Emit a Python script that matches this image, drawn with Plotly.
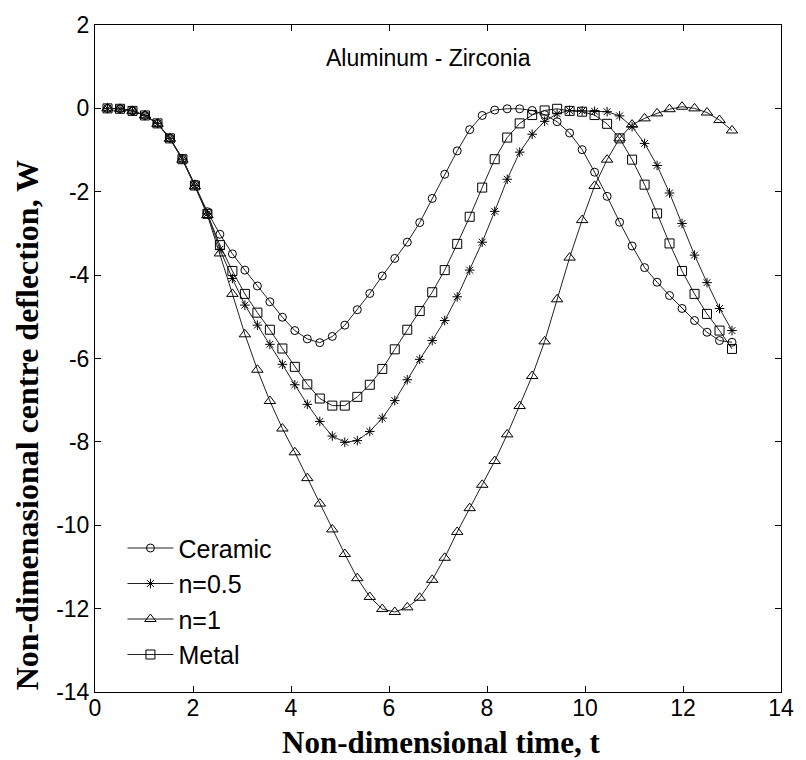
import plotly.graph_objects as go

t = [0.255, 0.510, 0.765, 1.020, 1.275, 1.529, 1.784, 2.039, 2.294, 2.549,
     2.804, 3.059, 3.314, 3.569, 3.824, 4.078, 4.333, 4.588, 4.843, 5.098,
     5.353, 5.608, 5.863, 6.118, 6.373, 6.627, 6.882, 7.137, 7.392, 7.647,
     7.902, 8.157, 8.412, 8.667, 8.922, 9.176, 9.431, 9.686, 9.941, 10.196,
     10.451, 10.706, 10.961, 11.216, 11.471, 11.725, 11.980, 12.235, 12.490, 12.745,
     13.000]

ceramic = [0.00, -0.01, -0.06, -0.17, -0.36, -0.71, -1.20, -1.82, -2.48, -3.02,
           -3.49, -3.88, -4.26, -4.64, -5.01, -5.33, -5.53, -5.62, -5.47, -5.20,
           -4.83, -4.44, -4.02, -3.60, -3.21, -2.74, -2.16, -1.58, -1.02, -0.51,
           -0.17, -0.04, -0.01, -0.01, -0.05, -0.15, -0.32, -0.59, -0.99, -1.53,
           -2.11, -2.73, -3.30, -3.82, -4.17, -4.49, -4.80, -5.09, -5.37, -5.57,
           -5.61]

n05 = [0.00, -0.01, -0.06, -0.17, -0.36, -0.72, -1.22, -1.85, -2.53, -3.38,
       -4.08, -4.72, -5.20, -5.66, -6.14, -6.63, -7.10, -7.51, -7.86, -8.01,
       -7.97, -7.75, -7.43, -7.01, -6.51, -6.02, -5.57, -5.09, -4.52, -3.88,
       -3.21, -2.47, -1.70, -1.05, -0.62, -0.31, -0.13, -0.05, -0.06, -0.07,
       -0.08, -0.18, -0.44, -0.84, -1.37, -2.03, -2.76, -3.52, -4.18, -4.80,
       -5.33]

n1 = [0.00, -0.01, -0.06, -0.17, -0.37, -0.73, -1.23, -1.87, -2.56, -3.48,
      -4.45, -5.42, -6.27, -7.02, -7.68, -8.25, -8.87, -9.48, -10.10, -10.69,
      -11.27, -11.72, -12.01, -12.08, -11.97, -11.74, -11.31, -10.78, -10.16, -9.59,
      -9.03, -8.46, -7.82, -7.14, -6.42, -5.59, -4.58, -3.58, -2.68, -1.86,
      -1.23, -0.72, -0.39, -0.24, -0.12, -0.02, 0.04, 0.00, -0.10, -0.28,
      -0.53]

metal = [0.00, -0.01, -0.06, -0.17, -0.36, -0.72, -1.22, -1.85, -2.53, -3.28,
         -3.90, -4.45, -4.90, -5.31, -5.76, -6.20, -6.62, -6.96, -7.13, -7.13,
         -6.92, -6.63, -6.25, -5.78, -5.31, -4.86, -4.41, -3.88, -3.25, -2.60,
         -1.90, -1.22, -0.70, -0.36, -0.16, -0.05, -0.01, -0.06, -0.08, -0.16,
         -0.37, -0.72, -1.23, -1.83, -2.52, -3.24, -3.90, -4.45, -4.93, -5.33,
         -5.77]

series_names = ["Ceramic", "n=0.5", "n=1", "Metal"]
series_vals = [ceramic, n05, n1, metal]
symbols = ["circle-open", "asterisk-open", "triangle-up-open", "square-open"]
sizes = [8, 8, 10, 9]

x_ticks = [0, 2, 4, 6, 8, 10, 12, 14]
x_labels = ["0", "2", "4", "6", "8", "10", "12", "14"]
y_ticks = [2, 0, -2, -4, -6, -8, -10, -12, -14]
y_labels = ["2", "0", "-2", "-4", "-6", "-8", "-10", "-12", "-14"]

fig = go.Figure()
for name, vals, sym, sz in zip(series_names, series_vals, symbols, sizes):
    fig.add_trace(go.Scatter(
        x=t, y=vals, name=name, mode="lines+markers",
        line=dict(color="#222222", width=1),
        marker=dict(symbol=sym, size=sz, color="black", line=dict(color="black", width=1)),
    ))

tick_font = dict(family="Liberation Sans, Arial, sans-serif", size=23, color="black")
axis_common = dict(
    showline=True, linecolor="black", linewidth=1, mirror="ticks",
    ticks="inside", ticklen=6, tickwidth=1, tickcolor="black",
    showgrid=False, zeroline=False, tickfont=tick_font,
)

fig.update_layout(
    width=806, height=760,
    margin=dict(l=95, r=17, t=22, b=68),
    paper_bgcolor="white", plot_bgcolor="white",
    xaxis=dict(range=[0, 14], tickvals=x_ticks, ticktext=x_labels,
               ticklabelstandoff=-5, **axis_common),
    yaxis=dict(range=[-14, 2], tickvals=y_ticks, ticktext=y_labels, **axis_common),
    showlegend=True,
    legend=dict(
        x=0.04, y=0.25, xanchor="left", yanchor="top",
        bgcolor="rgba(0,0,0,0)", borderwidth=0,
        font=dict(family="Liberation Sans, Arial, sans-serif", size=25, color="black"),
        tracegroupgap=0, itemwidth=46,
    ),
    annotations=[
        dict(x=6.8, y=1.2, xref="x", yref="y", text="Aluminum - Zirconia",
             showarrow=False, font=dict(family="Liberation Sans, Arial, sans-serif", size=23, color="black")),
        dict(x=0.505, y=-0.076, xref="paper", yref="paper", text="<b>Non-dimensional time, t</b>",
             showarrow=False, xanchor="center", yanchor="middle",
             font=dict(family="Liberation Serif, Times New Roman, serif", size=31, color="black")),
        dict(x=-0.099, y=0.40, xref="paper", yref="paper", text="<b>Non-dimenasional centre deflection, W</b>",
             showarrow=False, textangle=-90, xanchor="center", yanchor="middle",
             font=dict(family="Liberation Serif, Times New Roman, serif", size=32, color="black")),
    ],
)

fig.write_html("out.html")
